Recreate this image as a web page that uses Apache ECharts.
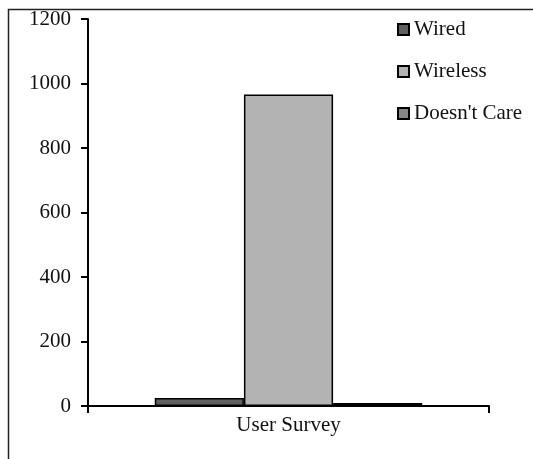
<!DOCTYPE html>
<html>
<head>
<meta charset="utf-8">
<script src="https://cdn.jsdelivr.net/npm/echarts@6/dist/echarts.min.js"></script>
<style>html,body{margin:0;padding:0;background:#fff}#c{width:533px;height:459px}</style>
</head>
<body>
<div id="c"></div>
<script>
const categories = ["User Survey"];
const seriesNames = ["Wired", "Wireless", "Doesn't Care"];
const wiredValues = [25];
const wirelessValues = [966];
const doesntCareValues = [9];
const yTicks = { min: 0, max: 1200, interval: 200 };

const colors = ["#606060", "#b3b3b3", "#858585"];
const values = [wiredValues, wirelessValues, doesntCareValues];
const font = "'Liberation Serif', 'Times New Roman', serif";

const chart = echarts.init(document.getElementById('c'), null, {renderer: 'canvas'});
chart.setOption({
  animation: false,
  backgroundColor: '#fff',
  textStyle: { fontFamily: font },
  graphic: [{
    type: 'rect', left: 6, top: 7, z: -1,
    shape: { x: 0, y: 0, width: 1000, height: 1000 },
    style: { fill: 'none', stroke: '#222', lineWidth: 1.5 }
  }],
  legend: {
    orient: 'vertical', left: 397, top: 19, padding: 0,
    itemWidth: 11, itemHeight: 11, itemGap: 21,
    icon: 'rect',
    textStyle: { fontFamily: font, fontSize: 21, color: '#111', lineHeight: 21 },
    data: seriesNames
  },
  grid: { left: 88, right: 44, top: 19, bottom: 53, containLabel: false },
  xAxis: {
    type: 'category', data: categories,
    axisLine: { lineStyle: { color: '#000', width: 2 } },
    axisTick: { show: true, length: 7, lineStyle: { color: '#000', width: 2 } },
    axisLabel: { fontFamily: font, fontSize: 21, color: '#111', margin: 9 },
    splitLine: { show: false }
  },
  yAxis: {
    type: 'value', min: yTicks.min, max: yTicks.max, interval: yTicks.interval,
    axisLine: { show: true, lineStyle: { color: '#000', width: 2 } },
    axisTick: { show: true, length: 7, lineStyle: { color: '#000', width: 2 } },
    axisLabel: { fontFamily: font, fontSize: 21, color: '#111', margin: 17,
      formatter: v => String(v) },
    splitLine: { show: false }
  },
  series: seriesNames.map((n, i) => ({
    name: n, type: 'bar', data: values[i],
    barGap: '0%', barCategoryGap: '33.3%',
    itemStyle: { color: colors[i], borderColor: '#000', borderWidth: 1.5 }
  }))
});
</script>
</body>
</html>
